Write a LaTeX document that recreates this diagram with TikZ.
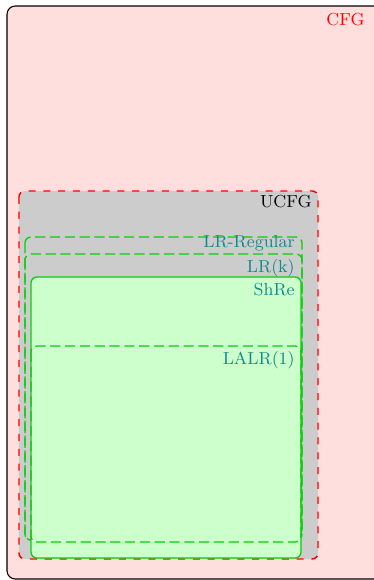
\documentclass[tikz,border=0pt]{standalone}
\definecolor{cfgfill}{RGB}{255,222,222}
\definecolor{ucfgfill}{RGB}{204,204,204}
\definecolor{shrefill}{RGB}{204,255,204}
\definecolor{lrgreen}{RGB}{10,205,10}
\definecolor{lblteal}{RGB}{15,140,140}
\begin{document}
\begin{tikzpicture}[x=0.54pt,y=-0.54pt,
  cfgbox/.style={draw=black,fill=cfgfill,line width=0.6pt,rounded corners=4.5pt},
  ucfgbox/.style={draw=red,fill=ucfgfill,line width=0.8pt,dash pattern=on 3.8pt off 4.2pt,rounded corners=3.2pt},
  lrbox/.style={draw=lrgreen,line width=0.7pt,dash pattern=on 5.5pt off 2.5pt,rounded corners=3.2pt},
  shrebox/.style={draw=lrgreen,fill=shrefill,line width=0.7pt,rounded corners=3.2pt},
  lbl/.style={anchor=base east,inner sep=0pt,font=\fontsize{9.4}{11}\selectfont}]
\useasboundingbox (0,0) rectangle (373,580);
\path[cfgbox] (7,6) rectangle (385,579);
\path[ucfgbox] (19,191) rectangle (318,559);
\path[lrbox] (25,237) rectangle (302,540);
\path[lrbox] (25,254) rectangle (302,540);
\path[shrebox] (31,277) rectangle (301,558);
\path[lrbox] (31,346) rectangle (301,542);
\node[lbl,text=red] (cfg) at (365,25) {CFG};
\node[lbl,text=black] (ucfg) at (312,207) {UCFG};
\node[lbl,text=lblteal] (lrreg) at (295,247) {LR-Regular};
\node[lbl,text=lblteal] (lrk) at (295,272) {LR(k)};
\node[lbl,text=lblteal] (shre) at (295,295) {ShRe};
\node[lbl,text=lblteal] (lalr) at (295,364) {LALR(1)};
\end{tikzpicture}
\end{document}
